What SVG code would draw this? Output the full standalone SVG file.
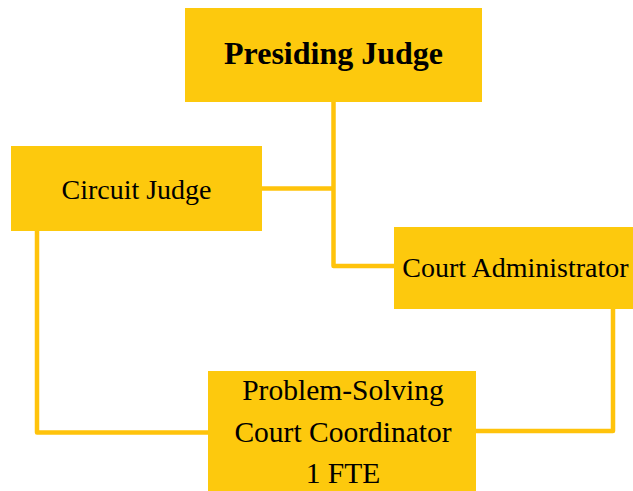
<svg xmlns="http://www.w3.org/2000/svg" width="633" height="491" viewBox="0 0 633 491">
<style>
.box{fill:#FDC90D}
.t{font-family:"Liberation Serif","Times New Roman",serif;font-size:28px;fill:#000;text-anchor:middle}
.b{font-weight:bold;font-size:32px}
.s{font-size:29.5px}
.c{fill:none;stroke:#FFC30B;stroke-width:4.5;stroke-linejoin:round}
</style>
<rect width="633" height="491" fill="#fff"/>
<g id="connectors">
<path class="c" d="M333.5,102 V266 H394"/>
<path class="c" d="M262,188.5 H333.5"/>
<path class="c" d="M37,231 V432.5 H208"/>
<path class="c" d="M613,309 V431 H476"/>
</g>
<g id="presiding-judge">
<rect class="box" x="185" y="8" width="297" height="94"/>
<text class="t b" x="333.5" y="64">Presiding Judge</text>
</g>
<g id="circuit-judge">
<rect class="box" x="11" y="146" width="251" height="85"/>
<text class="t" x="136.5" y="198.5">Circuit Judge</text>
</g>
<g id="court-administrator">
<rect class="box" x="394" y="227" width="239" height="82"/>
<text class="t" x="515.5" y="276.5">Court Administrator</text>
</g>
<g id="coordinator">
<rect class="box" x="208" y="371" width="268" height="120"/>
<text class="t s" x="343" y="400">Problem-Solving</text>
<text class="t s" x="343" y="441.5">Court Coordinator</text>
<text class="t s" x="343" y="483">1 FTE</text>
</g>
</svg>
